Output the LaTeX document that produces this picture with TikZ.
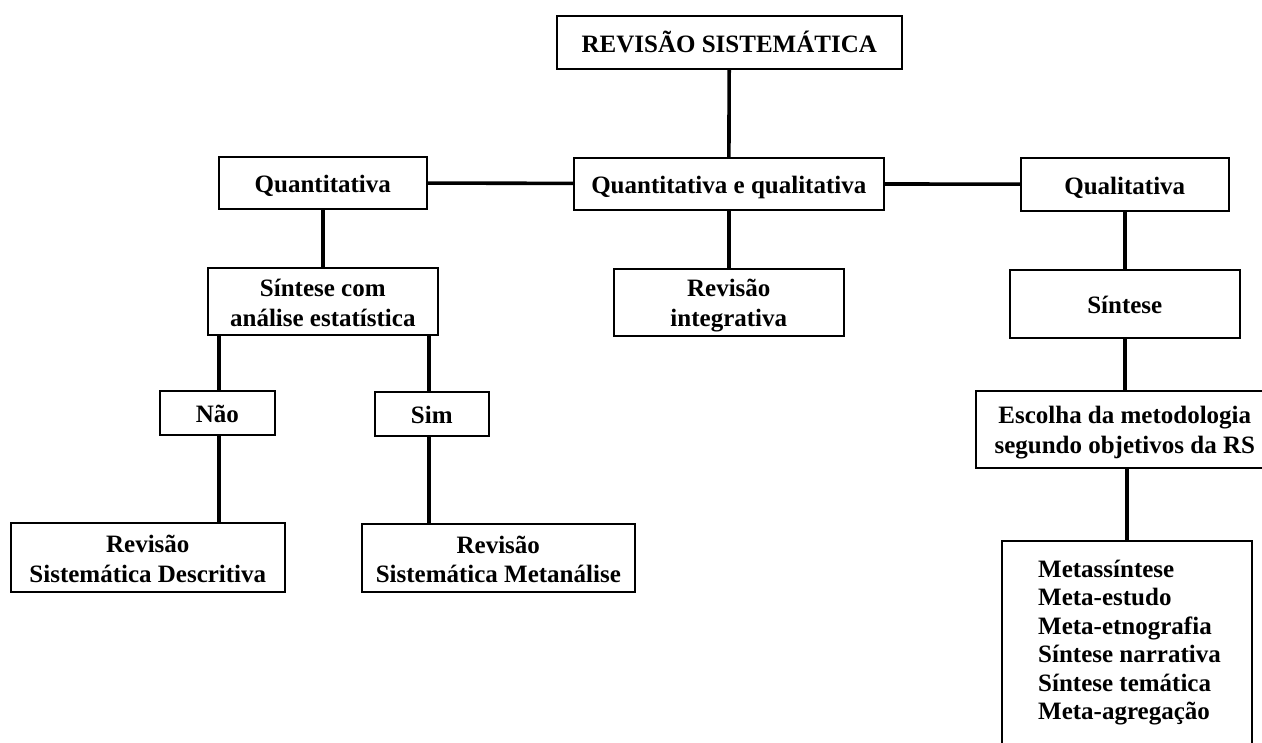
\documentclass[tikz,border=0pt]{standalone}
\usepackage{fontspec}
\setmainfont{Liberation Serif}
% fixed strut so every line sits at the same height inside its box
\newcommand\lnstrut{\rule[-4pt]{0pt}{28pt}}
\begin{document}
\begin{tikzpicture}[x=1pt,y=-1pt,
  box/.style={draw, line width=1.6pt, inner sep=0pt, align=center,
    anchor=north west, font=\bfseries\fontsize{25}{29.5}\selectfont},
  link/.style={line width=3.6pt},
  item/.style={anchor=base west, inner sep=0pt,
    font=\bfseries\fontsize{25}{29.5}\selectfont}]
\useasboundingbox (0,0) rectangle (1262,743);
\clip (0,0) rectangle (1262,743);

% top level
\node[box, minimum width=345pt, minimum height=53pt] (top) at (556,15)
  {\lnstrut REVISÃO SISTEMÁTICA};

% second level
\node[box, minimum width=208pt, minimum height=52pt] (quant) at (218,156)
  {\lnstrut Quantitativa};
\node[box, minimum width=310pt, minimum height=52pt] (qq) at (573,157)
  {\lnstrut Quantitativa e qualitativa};
\node[box, minimum width=208pt, minimum height=53pt] (qual) at (1020,157)
  {\lnstrut Qualitativa};

% third level
\node[box, minimum width=230pt, minimum height=67pt] (sca) at (207,267)
  {\lnstrut Síntese com\\\lnstrut análise estatística};
\node[box, minimum width=230pt, minimum height=67pt] (integ) at (613,268)
  {\lnstrut Revisão\\\lnstrut integrativa};
\node[box, minimum width=230pt, minimum height=68pt] (sint) at (1009,269)
  {\lnstrut Síntese};

% quantitative branch
\node[box, minimum width=115pt, minimum height=44pt] (nao) at (159,390)
  {\lnstrut Não};
\node[box, minimum width=114pt, minimum height=44pt] (sim) at (374,391)
  {\lnstrut Sim};
\node[box, minimum width=274pt, minimum height=69pt] (desc) at (10,522)
  {\lnstrut Revisão\\\lnstrut Sistemática Descritiva};
\node[box, minimum width=273pt, minimum height=68pt] (meta) at (361,523)
  {\lnstrut Revisão\\\lnstrut Sistemática Metanálise};

% qualitative branch
\node[box, minimum width=298pt, minimum height=77pt] (esc) at (975,390)
  {\lnstrut Escolha da metodologia\\\lnstrut segundo objetivos da RS};
\node[box, minimum width=250pt, minimum height=240pt] (list) at (1001,540) {};
\node[item] (m1) at (1038,577.0) {Metassíntese};
\node[item] (m2) at (1038,605.5) {Meta-estudo};
\node[item] (m3) at (1038,634.0) {Meta-etnografia};
\node[item] (m4) at (1038,662.5) {Síntese narrativa};
\node[item] (m5) at (1038,691.0) {Síntese temática};
\node[item] (m6) at (1038,719.5) {Meta-agregação};

% connectors
\draw[link] (top) -- (qq);
\draw[link] (quant) -- (qq);
\draw[link] (qq) -- (qual);
\draw[link] (qq) -- (integ);
\draw[link] (quant) -- (sca);
\draw[link] ([xshift=1.5pt]nao.north) -- ([xshift=1.5pt]nao.north |- sca.south);
\draw[link] ([xshift=-3pt]sim.north) -- ([xshift=-3pt]sim.north |- sca.south);
\draw[link] ([xshift=1.5pt]nao.south) -- ([xshift=1.5pt]nao.south |- desc.north);
\draw[link] ([xshift=-3pt]sim.south) -- ([xshift=-3pt]sim.south |- meta.north);
\draw[link] (qual) -- (sint);
\draw[link] (sint) -- (esc);
\draw[link] (esc.south -| list.north) -- (list.north);
\end{tikzpicture}
\end{document}
